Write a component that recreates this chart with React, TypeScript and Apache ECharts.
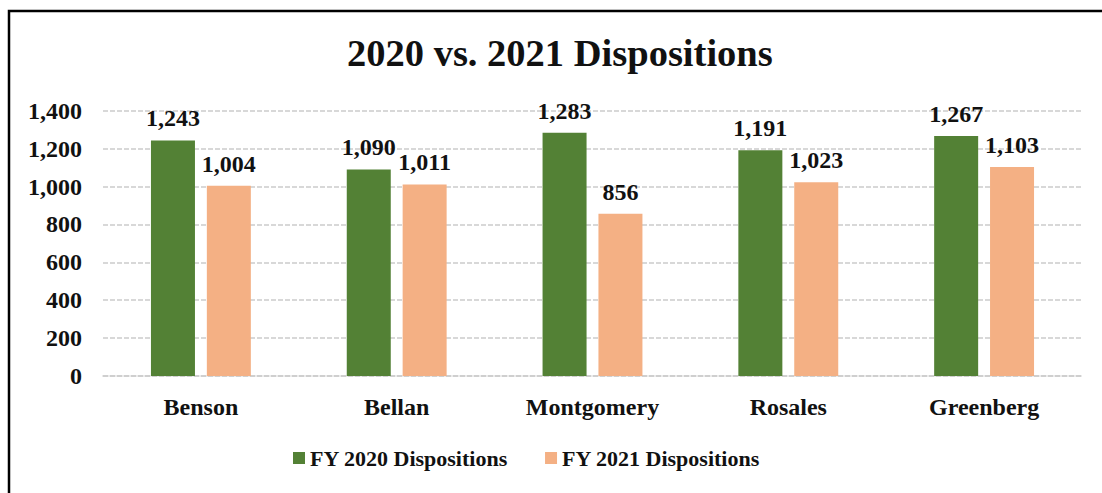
import React, { useEffect, useRef } from "react";
import * as echarts from "echarts";

const categories = ["Benson", "Bellan", "Montgomery", "Rosales", "Greenberg"];
const fy2020 = [1243, 1090, 1283, 1191, 1267];
const fy2021 = [1004, 1011, 856, 1023, 1103];
const seriesNames = ["FY 2020 Dispositions", "FY 2021 Dispositions"];
const titleText = "2020 vs. 2021 Dispositions";

const FONT = '"Liberation Serif", "Times New Roman", serif';
const fmt = (v: number) => Number(v).toLocaleString("en-US");

export default function App() {
  const ref = useRef<HTMLDivElement>(null);
  useEffect(() => {
    if (!ref.current) return;
    const chart = echarts.init(ref.current, null, { renderer: "svg" });
    const label = {
      show: true,
      position: "top",
      distance: 10,
      fontFamily: FONT,
      fontWeight: "bold",
      fontSize: 24,
      color: "#111",
      formatter: (p: any) => fmt(p.value),
    };
    chart.setOption({
      animation: false,
      backgroundColor: "#fff",
      title: {
        text: titleText,
        left: 347,
        top: 33,
        padding: 0,
        textStyle: { fontFamily: FONT, fontWeight: "bold", fontSize: 38.5, color: "#111" },
      },
      legend: {
        left: 293,
        top: 447,
        padding: 0,
        itemWidth: 12,
        itemHeight: 12,
        itemGap: 37,
        icon: "rect",
        textStyle: { fontFamily: FONT, fontWeight: "bold", fontSize: 22, color: "#111", padding: [0, 0, 0, 0] },
        data: seriesNames,
      },
      grid: { left: 103, right: 20, top: 110.7, bottom: 117, containLabel: false },
      graphic: [
        {
          type: "polyline",
          shape: { points: [[9, 600], [9, 11], [1200, 11]] },
          style: { fill: "none", stroke: "#000", lineWidth: 2.5 },
          silent: true,
          z: 100,
        },
      ],
      xAxis: {
        type: "category",
        data: categories,
        axisLine: { show: true, lineStyle: { color: "#cccccc", type: [5, 2], width: 1.5 } },
        axisTick: { show: false },
        axisLabel: {
          margin: 19,
          fontFamily: FONT,
          fontWeight: "bold",
          fontSize: 24,
          color: "#111",
        },
      },
      yAxis: {
        type: "value",
        min: 0,
        max: 1400,
        interval: 200,
        axisLine: { show: false },
        axisTick: { show: false },
        splitLine: { lineStyle: { color: "#cccccc", type: [5, 2], width: 1.5 } },
        axisLabel: {
          margin: 21,
          fontFamily: FONT,
          fontWeight: "bold",
          fontSize: 24,
          color: "#111",
          formatter: (v: number) => fmt(v),
        },
      },
      series: [
        {
          name: seriesNames[0],
          type: "bar",
          data: fy2020,
          barWidth: 44,
          barGap: "27%",
          itemStyle: { color: "#538135" },
          label,
        },
        {
          name: seriesNames[1],
          type: "bar",
          data: fy2021,
          barWidth: 44,
          itemStyle: { color: "#F4B084" },
          label,
        },
      ],
    });
    return () => chart.dispose();
  }, []);
  return (
    <div
      ref={ref}
      style={{ position: "fixed", left: 0, top: 0, width: 1102, height: 493, background: "#fff" }}
    />
  );
}
